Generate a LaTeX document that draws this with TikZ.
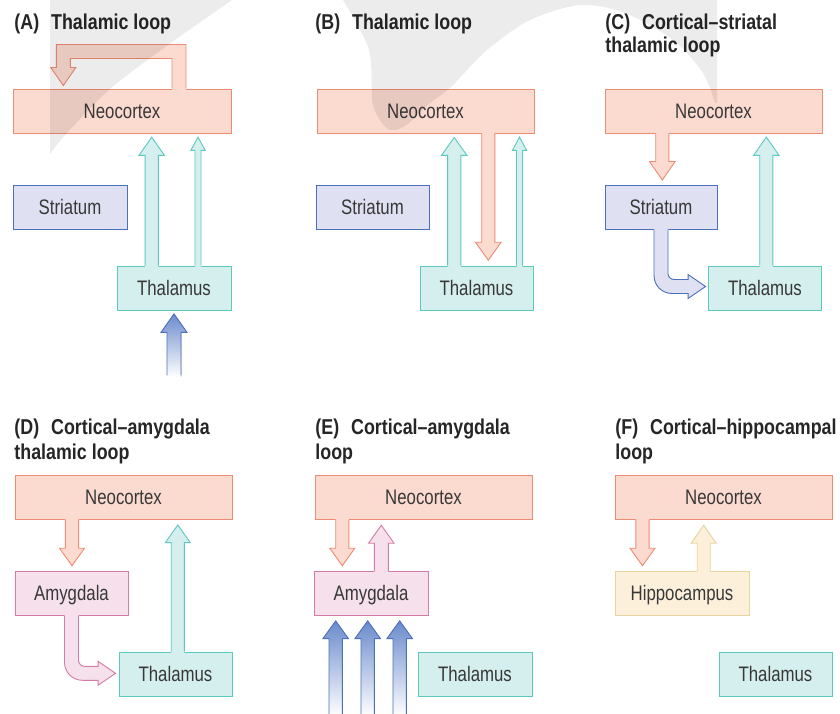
\documentclass[tikz,border=0pt]{standalone}
\usepackage{fontspec}
\setmainfont{Liberation Sans}
\newfontfamily\labfont{Liberation Sans}[FakeStretch=0.8]
\newfontfamily\titfont{Liberation Sans Bold}[FakeStretch=0.83]
\usetikzlibrary{calc}

\definecolor{cNeoF}{HTML}{FBDACF}
\definecolor{cNeoD}{HTML}{EF8B73}
\definecolor{cStrF}{HTML}{DFE1F2}
\definecolor{cStrD}{HTML}{4C70C0}
\definecolor{cThF}{HTML}{D5EEEE}
\definecolor{cThD}{HTML}{5CC9BF}
\definecolor{cAmF}{HTML}{F5E0EB}
\definecolor{cAmD}{HTML}{D47CA7}
\definecolor{cHiF}{HTML}{FCF0DB}
\definecolor{cHiD}{HTML}{E6D59F}
\definecolor{cInB}{HTML}{6B8BCC}
\definecolor{cTxt}{HTML}{383838}
\definecolor{cTtl}{HTML}{262626}

% straight block arrow: fill, draw, base, tip, half shaft, half head, head length
\newcommand\sarrow[7]{%
  \coordinate (sa-b) at #3;
  \coordinate (sa-t) at #4;
  \coordinate (sa-e) at ($(sa-b)!-1.5pt!(sa-t)$);
  \coordinate (sa-s) at ($(sa-t)!#7!(sa-b)$);
  \fill[#1] ($(sa-e)!#5!90:(sa-t)$) -- ($(sa-s)!#5!90:(sa-t)$) -- ($(sa-s)!#6!90:(sa-t)$)
     -- (sa-t) -- ($(sa-s)!#6!-90:(sa-t)$) -- ($(sa-s)!#5!-90:(sa-t)$) -- ($(sa-e)!#5!-90:(sa-t)$) -- cycle;
  \draw[#2, line join=miter] ($(sa-b)!#5!90:(sa-t)$) -- ($(sa-s)!#5!90:(sa-t)$) -- ($(sa-s)!#6!90:(sa-t)$)
     -- (sa-t) -- ($(sa-s)!#6!-90:(sa-t)$) -- ($(sa-s)!#5!-90:(sa-t)$) -- ($(sa-b)!#5!-90:(sa-t)$);
}

% bent block arrow (down, then right): fill, draw, base, tip
\newcommand\bentpath[1]{(\x1-7pt,\y1+#1) -- (\x1-7pt,\y2+11pt)
   .. controls (\x1-7pt,\y2+1pt) and (\x1+1pt,\y2-7pt) .. (\x1+11pt,\y2-7pt)
   -- (\x2-17.5pt,\y2-7pt) -- (\x2-17.5pt,\y2-12pt) -- (\x2,\y2) -- (\x2-17.5pt,\y2+12pt)
   -- (\x2-17.5pt,\y2+7pt) -- (\x1+13pt,\y2+7pt)
   .. controls (\x1+9.7pt,\y2+7pt) and (\x1+7pt,\y2+9.7pt) .. (\x1+7pt,\y2+13pt)
   -- (\x1+7pt,\y1+#1)}
\newcommand\barrow[4]{%
  \fill[#1] let \p1=#3, \p2=#4 in \bentpath{1.5pt} -- cycle;
  \draw[#2, line join=miter] let \p1=#3, \p2=#4 in \bentpath{0pt};
}

\begin{document}
\begin{tikzpicture}[x=1pt, y=-1pt, line width=0.9pt,
  box/.style={draw, rectangle, inner sep=0pt, minimum height=44pt,
    font=\labfont\fontsize{21}{21}\selectfont, text=cTxt, text height=14.5pt, text depth=0pt},
  neo/.style={box, fill=cNeoF, draw=cNeoD, minimum width=217pt},
  stri/.style={box, fill=cStrF, draw=cStrD, minimum width=113pt},
  thal/.style={box, fill=cThF, draw=cThD, minimum width=113pt},
  amyg/.style={box, fill=cAmF, draw=cAmD, minimum width=113pt},
  hipp/.style={box, fill=cHiF, draw=cHiD, minimum width=134pt},
  ttl/.style={anchor=base west, inner sep=0pt, text=cTtl,
    font=\titfont\fontsize{21.5}{24}\selectfont},
  inarrow/.style={top color=cInB, bottom color=white},
]
\useasboundingbox (0,0) rectangle (840,714);
\fill[white] (0,0) rectangle (840,714);

% ---------- titles ----------
\node[ttl] (tA) at (14,29.3) {(A)\hspace{7pt} Thalamic loop};
\node[ttl] (tB) at (315,29.3) {(B)\hspace{7pt} Thalamic loop};
\node[ttl] (tC1) at (605,29.3) {(C)\hspace{7pt} Cortical–striatal};
\node[ttl] (tC2) at (605,52.5) {thalamic loop};
\node[ttl] (tD1) at (14,434.3) {(D)\hspace{7pt} Cortical–amygdala};
\node[ttl] (tD2) at (14,459.5) {thalamic loop};
\node[ttl] (tE1) at (315,434.3) {(E)\hspace{7pt} Cortical–amygdala};
\node[ttl] (tE2) at (315,459.5) {loop};
\node[ttl] (tF1) at (615,434.3) {(F)\hspace{7pt} Cortical–hippocampal};
\node[ttl] (tF2) at (615,459.5) {loop};

% ---------- panel A ----------
\node[neo, minimum width=218pt] (neoA) at (122,111) {Neocortex};
\node[stri, minimum width=114pt] (strA) at (70,207) {Striatum};
\node[thal, minimum width=114pt] (thA) at (174,288) {Thalamus};

\coordinate (A1b) at ($(thA.north)+(-22.3,0)$);
\coordinate (A1t) at ($(A1b |- neoA.south)+(0,3.7)$);
\sarrow{cThF}{cThD}{(A1b)}{(A1t)}{6.6pt}{12.8pt}{18.3pt}
\coordinate (A2b) at ($(thA.north)+(24,0)$);
\coordinate (A2t) at ($(A2b |- neoA.south)+(0,3.7)$);
\sarrow{cThF}{cThD}{(A2b)}{(A2t)}{3pt}{7.2pt}{13.3pt}
\coordinate (A3b) at ($(thA.south)+(0,65)$);
\coordinate (A3t) at ($(thA.south)+(0,3.5)$);
\sarrow{inarrow}{cStrD}{(A3b)}{(A3t)}{7pt}{13pt}{18.4pt}
% feedback loop over neocortex
\coordinate (A4b) at ($(neoA.north)+(57,0)$);
\coordinate (A4t) at ($(neoA.north)+(-58.7,-3)$);
\fill[cNeoF] let \p1=(A4b), \p2=(A4t) in
  (\x1+7pt,\y1-1.5pt) -- (\x1+7pt,\y1+44pt) -- (\x2-7pt,\y1+44pt) -- (\x2-7pt,\y2+18pt)
  -- (\x2-12.5pt,\y2+18pt) -- (\x2,\y2) -- (\x2+12.5pt,\y2+18pt) -- (\x2+7pt,\y2+18pt)
  -- (\x2+7pt,\y1+30pt) -- (\x1-7pt,\y1+30pt) -- (\x1-7pt,\y1-1.5pt) -- cycle;
\draw[cNeoD, line join=miter] let \p1=(A4b), \p2=(A4t) in
  (\x1+7pt,\y1) -- (\x1+7pt,\y1+44pt) -- (\x2-7pt,\y1+44pt) -- (\x2-7pt,\y2+18pt)
  -- (\x2-12.5pt,\y2+18pt) -- (\x2,\y2) -- (\x2+12.5pt,\y2+18pt) -- (\x2+7pt,\y2+18pt)
  -- (\x2+7pt,\y1+30pt) -- (\x1-7pt,\y1+30pt) -- (\x1-7pt,\y1);

% ---------- panel B ----------
\node[neo] (neoB) at (425.5,111) {Neocortex};
\node[stri] (strB) at (372.5,207) {Striatum};
\node[thal] (thB) at (476.5,288) {Thalamus};

\coordinate (B1b) at ($(thB.north)+(-22.3,0)$);
\coordinate (B1t) at ($(B1b |- neoB.south)+(0,4)$);
\sarrow{cThF}{cThD}{(B1b)}{(B1t)}{6.6pt}{12.8pt}{18pt}
\coordinate (B2b) at ($(neoB.south)+(62.8,0)$);
\coordinate (B2t) at ($(B2b |- thB.north)+(0,-5.3)$);
\sarrow{cNeoF}{cNeoD}{(B2b)}{(B2t)}{6.6pt}{12.8pt}{18pt}
\coordinate (B3b) at ($(thB.north)+(43,0)$);
\coordinate (B3t) at ($(B3b |- neoB.south)+(0,3.7)$);
\sarrow{cThF}{cThD}{(B3b)}{(B3t)}{3pt}{7.2pt}{13.3pt}

% ---------- panel C ----------
\node[neo] (neoC) at (713.5,111) {Neocortex};
\node[stri, minimum width=112pt] (strC) at (661,207.5) {Striatum};
\node[thal] (thC) at (765,288) {Thalamus};

\coordinate (C1b) at ($(neoC.south)+(-51.2,0)$);
\coordinate (C1t) at ($(C1b |- strC.north)+(0,-5)$);
\sarrow{cNeoF}{cNeoD}{(C1b)}{(C1t)}{6.6pt}{12.8pt}{18.5pt}
\coordinate (C2b) at ($(thC.north)+(1.3,0)$);
\coordinate (C2t) at ($(C2b |- neoC.south)+(0,3.7)$);
\sarrow{cThF}{cThD}{(C2b)}{(C2t)}{6.6pt}{12.8pt}{18.3pt}
\coordinate (C3b) at (strC.south);
\coordinate (C3t) at ($(thC.west)+(-2.5,-1.5)$);
\barrow{cStrF}{cStrD}{(C3b)}{(C3t)}

% ---------- panel D ----------
\node[neo] (neoD) at (123.5,497.5) {Neocortex};
\node[amyg] (amD) at (71.5,593.5) {Amygdala};
\node[thal] (thD) at (175.5,674) {Thalamus};

\coordinate (D1b) at ($(neoD.south)+(-51.5,0)$);
\coordinate (D1t) at ($(D1b |- amD.north)+(0,-5.3)$);
\sarrow{cNeoF}{cNeoD}{(D1b)}{(D1t)}{6.6pt}{12.5pt}{17.5pt}
\coordinate (D2b) at ($(thD.north)+(2.3,0)$);
\coordinate (D2t) at ($(D2b |- neoD.south)+(0,5)$);
\sarrow{cThF}{cThD}{(D2b)}{(D2t)}{6.6pt}{12.5pt}{17.7pt}
\coordinate (D3b) at (amD.south);
\coordinate (D3t) at ($(thD.west)+(-3,-0.7)$);
\barrow{cAmF}{cAmD}{(D3b)}{(D3t)}

% ---------- panel E ----------
\node[neo] (neoE) at (423.5,497.5) {Neocortex};
\node[amyg, minimum width=114pt] (amE) at (371,593.5) {Amygdala};
\node[thal, minimum width=114pt] (thE) at (475,674) {Thalamus};

\coordinate (E1b) at ($(neoE.south)+(-81.2,0)$);
\coordinate (E1t) at ($(E1b |- amE.north)+(0,-5.3)$);
\sarrow{cNeoF}{cNeoD}{(E1b)}{(E1t)}{6.6pt}{12.5pt}{17.5pt}
\coordinate (E2b) at ($(amE.north)+(10.3,0)$);
\coordinate (E2t) at ($(E2b |- neoE.south)+(0,5.3)$);
\sarrow{cAmF}{cAmD}{(E2b)}{(E2t)}{7pt}{12.8pt}{18pt}
\coordinate (E3b) at ($(amE.south)+(-35.3,99)$);
\coordinate (E3t) at ($(amE.south)+(-35.3,5)$);
\sarrow{inarrow}{cStrD}{(E3b)}{(E3t)}{6.7pt}{12.8pt}{17.7pt}
\coordinate (E4b) at ($(amE.south)+(-3.3,99)$);
\coordinate (E4t) at ($(amE.south)+(-3.3,5)$);
\sarrow{inarrow}{cStrD}{(E4b)}{(E4t)}{6.7pt}{12.8pt}{17.7pt}
\coordinate (E5b) at ($(amE.south)+(28.7,99)$);
\coordinate (E5t) at ($(amE.south)+(28.7,5)$);
\sarrow{inarrow}{cStrD}{(E5b)}{(E5t)}{6.7pt}{12.8pt}{17.7pt}

% ---------- panel F ----------
\node[neo] (neoF) at (723.5,497.5) {Neocortex};
\node[hipp] (hiF) at (682,593.5) {Hippocampus};
\node[thal] (thF) at (775.5,674) {Thalamus};

\coordinate (F1b) at ($(neoF.south)+(-81,0)$);
\coordinate (F1t) at ($(F1b |- hiF.north)+(0,-5.3)$);
\sarrow{cNeoF}{cNeoD}{(F1b)}{(F1t)}{6.6pt}{12.5pt}{17.5pt}
\coordinate (F2b) at ($(hiF.north)+(21.7,0)$);
\coordinate (F2t) at ($(F2b |- neoF.south)+(0,5.3)$);
\sarrow{cHiF}{cHiD}{(F2b)}{(F2t)}{6.5pt}{12.5pt}{18pt}

% ---------- faint background swoosh ----------
\fill[black, fill opacity=0.075] (50,0) -- plot[smooth] coordinates {(232,0) (168,45) (110,89) (67,133) (50,154)} -- cycle;
\fill[black, fill opacity=0.075] plot[smooth] coordinates {(343,0) (369,50) (373,105) (388,129) (405,126) (430,103) (450,88) (487,50) (530,20) (580,5) (625,13) (673,40) (703,73) (715,103)} -- (717,103) -- (717,0) -- cycle;
\end{tikzpicture}
\end{document}
